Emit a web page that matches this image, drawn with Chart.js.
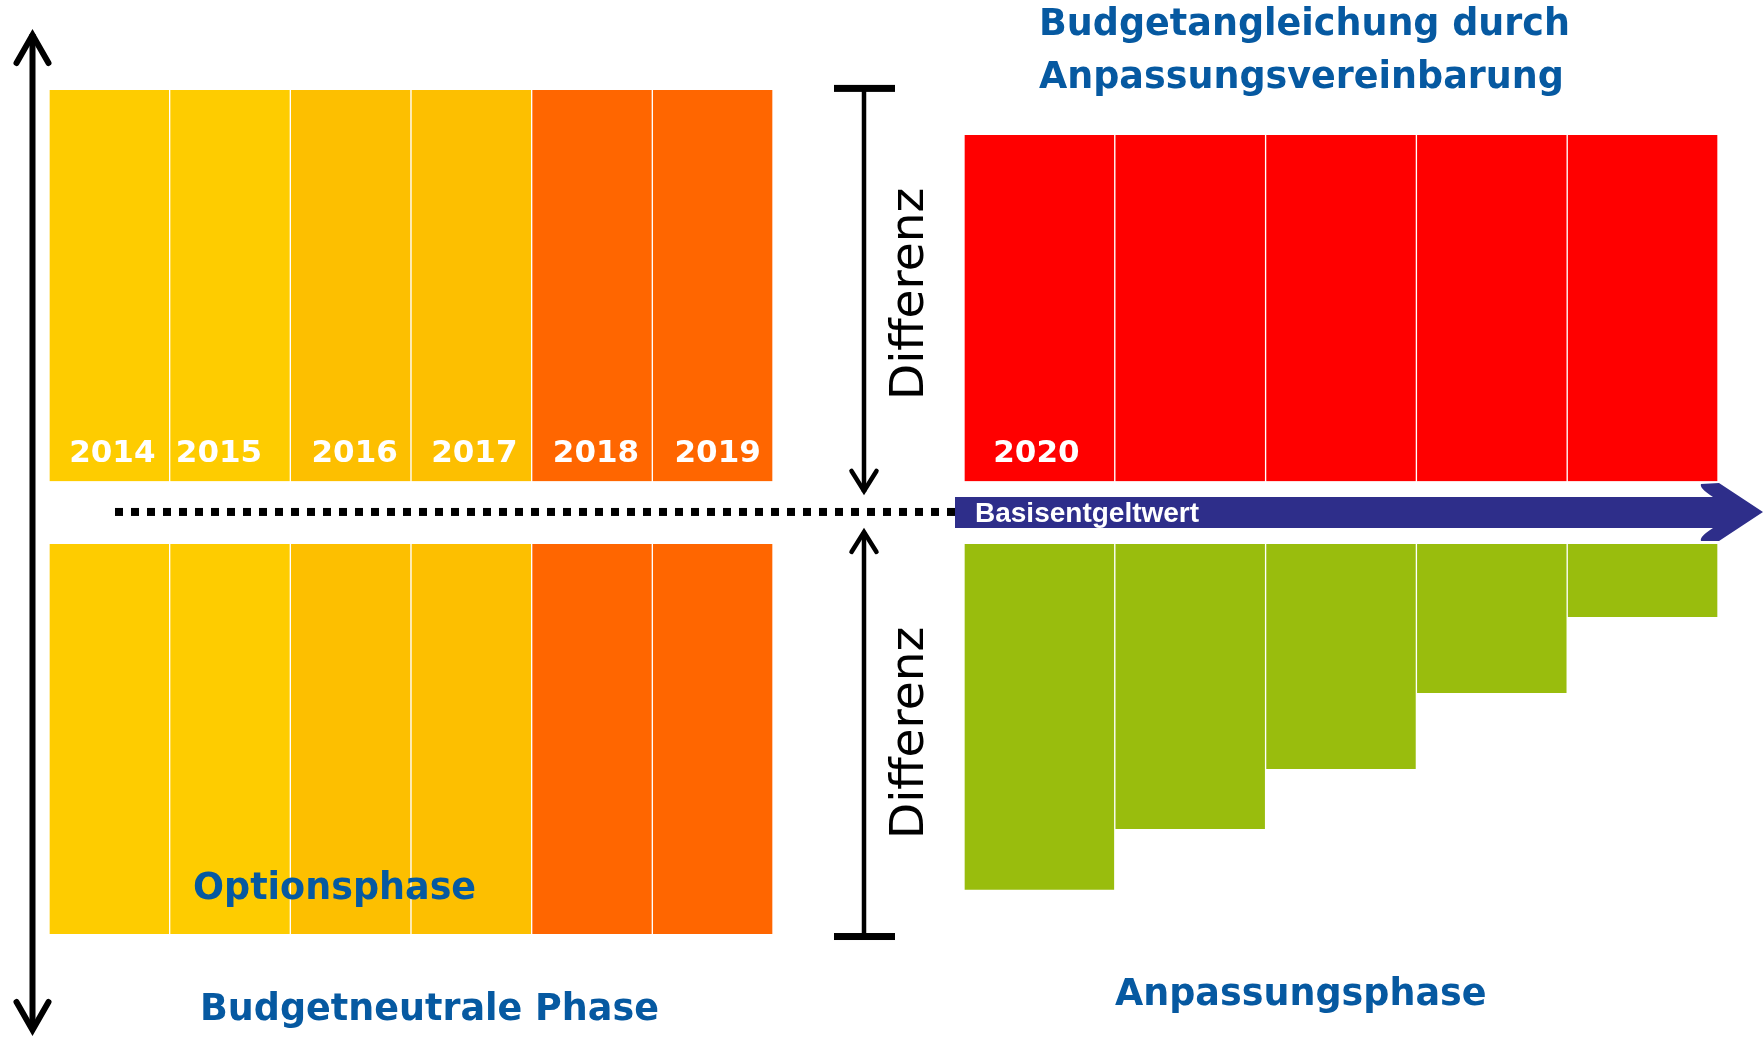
<!DOCTYPE html>
<html><head><meta charset="utf-8">
<script src="https://cdn.jsdelivr.net/npm/chart.js@4.4.1/dist/chart.umd.min.js"></script>
<style>
html,body{margin:0;padding:0;background:#fff;}
#wrap{position:relative;width:1763px;height:1037px;overflow:hidden;background:#fff;}
.box{position:absolute;top:0;height:1037px;}
</style></head><body>
<div id="wrap">
  <div class="box" style="left:49px;width:724px"><canvas id="cL"></canvas></div>
  <div class="box" style="left:964px;width:754px"><canvas id="cR"></canvas></div>
  <div class="box" style="left:0;width:1763px;pointer-events:none"><canvas id="cA"></canvas></div>
</div>
<script>
// ---------- data ----------
const neutralJahre      = ['2014','2015','2016','2017','2018','2019'];
const neutralBeschriftet = ['2014','2015','2016','2017','2018','2019'];
const neutralOben       = [100, 100, 100, 100, 100, 100];
const neutralUnten      = [-100, -100, -100, -100, -100, -100];

const anpassungJahre      = ['2020','2021','2022','2023','2024'];
const anpassungBeschriftet = ['2020','','','',''];
const anpassungRot        = [89.3, 89.3, 89.3, 89.3, 89.3];
const anpassungGruen      = [-89.5, -75.1, -60.9, -42.9, -24.9];

const basisentgeltwert = 0;
const differenz = 100;
const abstandOben = 7.3;
const abstandUnten = -7.6;
const yMin = -124.4, yMax = 121.3;

// ---------- styles ----------
const neutralFarben = ['#FECC00','#FECC00','#FDBF00','#FDBF00','#FF6600','#FF6600'];
const neutralLabelShift = [3, -11, 4, 3, 4, 5];
const anpassungLabelShift = [-3, 0, 0, 0, 0];
const rot = '#FF0000', gruen = '#99BD0D', blau = '#2E2E8A', titelBlau = '#0659A1';

const yearLabelPlugin = {
  id: 'yearLabels',
  afterDatasetsDraw(chart, args, opts) {
    const ctx = chart.ctx;
    const meta = chart.getDatasetMeta(0);
    const yb = chart.scales.y.getPixelForValue(abstandOben);
    ctx.save();
    ctx.fillStyle = '#fff';
    ctx.font = 'bold 31px "DejaVu Sans"';
    ctx.textAlign = 'center';
    ctx.textBaseline = 'alphabetic';
    meta.data.forEach((bar, i) => {
      const t = opts.texts[i];
      if (t) ctx.fillText(t, bar.x + opts.shift[i], yb - 19);
    });
    ctx.restore();
  }
};

function barChart(id, labels, oben, unten, farbenOben, farbenUnten, texts, shift) {
  return new Chart(document.getElementById(id), {
    type: 'bar',
    data: {
      labels: labels,
      datasets: [
        { data: oben.map(v => [abstandOben, v]), backgroundColor: farbenOben, grouped: false },
        { data: unten.map(v => [abstandUnten, v]), backgroundColor: farbenUnten, grouped: false }
      ]
    },
    options: {
      responsive: true, maintainAspectRatio: false, animation: false,
      layout: { padding: 0 },
      plugins: { legend: { display: false }, tooltip: { enabled: false }, yearLabels: { texts: texts, shift: shift } },
      datasets: { bar: { barPercentage: 1, categoryPercentage: 1,
        borderWidth: { left: 1, right: 1, top: 0, bottom: 0 }, borderColor: '#ffffff', borderSkipped: false } },
      scales: {
        x: { display: false },
        y: { display: false, min: yMin, max: yMax }
      }
    },
    plugins: [yearLabelPlugin]
  });
}

barChart('cL', neutralJahre, neutralOben, neutralUnten, neutralFarben, neutralFarben, neutralBeschriftet, neutralLabelShift);
barChart('cR', anpassungJahre, anpassungRot, anpassungGruen,
         anpassungJahre.map(() => rot), anpassungJahre.map(() => gruen), anpassungBeschriftet, anpassungLabelShift);

// ---------- annotations ----------
function arrowHead(ctx, x, apexY, dir, halfW, len) {
  ctx.beginPath();
  ctx.moveTo(x - halfW, apexY - dir * len);
  ctx.lineTo(x, apexY);
  ctx.lineTo(x + halfW, apexY - dir * len);
  ctx.stroke();
}

const annotPlugin = {
  id: 'annot',
  afterDraw(chart) {
    const ctx = chart.ctx;
    const ys = chart.scales.y;
    const y0 = ys.getPixelForValue(basisentgeltwert);
    const yTop = ys.getPixelForValue(differenz);
    const yBot = ys.getPixelForValue(-differenz);
    ctx.save();

    // dotted baseline
    ctx.fillStyle = '#000';
    for (let x = 115; x + 8 <= 955; x += 16) ctx.fillRect(x, y0 - 4, 8, 8);

    // Basisentgeltwert arrow
    ctx.fillStyle = blau;
    ctx.beginPath();
    ctx.moveTo(955, y0 - 15);
    ctx.lineTo(1713, y0 - 15);
    ctx.quadraticCurveTo(1699, y0 - 24, 1701, y0 - 28);
    ctx.lineTo(1719, y0 - 29);
    ctx.lineTo(1763, y0);
    ctx.lineTo(1719, y0 + 29);
    ctx.lineTo(1701, y0 + 29);
    ctx.quadraticCurveTo(1699, y0 + 25, 1713, y0 + 16);
    ctx.lineTo(955, y0 + 16);
    ctx.closePath();
    ctx.fill();

    ctx.fillStyle = '#fff';
    ctx.font = 'bold 28px "Liberation Sans"';
    ctx.textAlign = 'left';
    ctx.textBaseline = 'alphabetic';
    ctx.fillText('Basisentgeltwert', 975, y0 + 10.5);

    // left double arrow
    ctx.strokeStyle = '#000';
    ctx.lineWidth = 6;
    ctx.lineCap = 'butt';
    ctx.beginPath(); ctx.moveTo(32.5, 34); ctx.lineTo(32.5, 1030); ctx.stroke();
    ctx.lineCap = 'round'; ctx.lineJoin = 'miter';
    arrowHead(ctx, 32.5, 35, -1, 16, 28);
    arrowHead(ctx, 32.5, 1030, 1, 16, 28);

    // Differenz brackets
    ctx.lineWidth = 4.5;
    ctx.lineCap = 'butt';
    ctx.fillStyle = '#000';
    ctx.fillRect(834, yTop - 5, 61, 7);
    ctx.beginPath(); ctx.moveTo(864, yTop); ctx.lineTo(864, y0 - 20); ctx.stroke();
    ctx.lineCap = 'round';
    arrowHead(ctx, 864, y0 - 21, 1, 12.5, 20);
    ctx.fillRect(834, yBot - 1, 61, 7);
    ctx.lineCap = 'butt';
    ctx.beginPath(); ctx.moveTo(864, yBot); ctx.lineTo(864, y0 + 20); ctx.stroke();
    ctx.lineCap = 'round';
    arrowHead(ctx, 864, y0 + 20, -1, 12.5, 20);

    // Differenz texts
    ctx.fillStyle = '#000';
    ctx.font = '47px "DejaVu Sans"';
    ctx.textAlign = 'center';
    [[y0 - 218], [y0 + 221]].forEach(([cy]) => {
      ctx.save();
      ctx.translate(923, cy);
      ctx.rotate(-Math.PI / 2);
      ctx.fillText('Differenz', 0, 0);
      ctx.restore();
    });

    // blue titles
    ctx.fillStyle = titelBlau;
    ctx.font = 'bold 36.5px "DejaVu Sans"';
    ctx.textAlign = 'left';
    ctx.fillText('Budgetangleichung durch', 1039, 35);
    ctx.fillText('Anpassungsvereinbarung', 1039, 88);
    ctx.fillText('Optionsphase', 193, 899);
    ctx.fillText('Budgetneutrale Phase', 200, 1020);
    ctx.fillText('Anpassungsphase', 1115, 1005);

    ctx.restore();
  }
};

new Chart(document.getElementById('cA'), {
  type: 'line',
  data: { labels: [], datasets: [] },
  options: {
    responsive: true, maintainAspectRatio: false, animation: false,
    layout: { padding: 0 },
    plugins: { legend: { display: false }, tooltip: { enabled: false } },
    scales: {
      x: { type: 'linear', display: false, min: 0, max: 1 },
      y: { display: false, min: yMin, max: yMax }
    }
  },
  plugins: [annotPlugin]
});
</script>
</body></html>
